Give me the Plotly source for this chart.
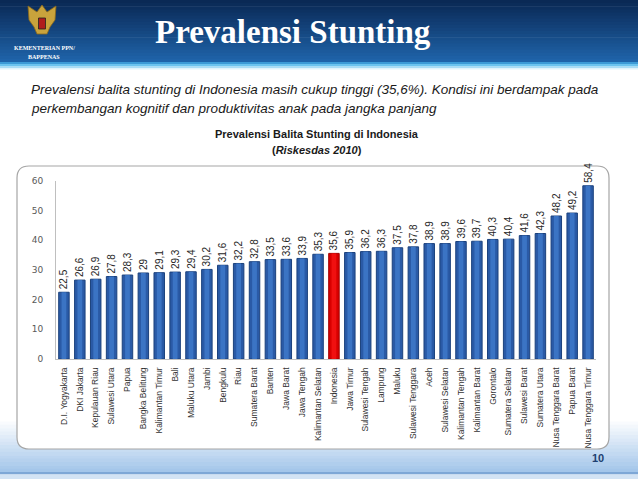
import plotly.graph_objects as go

provinces = ["D.I. Yogyakarta", "DKI Jakarta", "Kepulauan Riau", "Sulawesi Utara", "Papua",
             "Bangka Belitung", "Kalimantan Timur", "Bali", "Maluku Utara", "Jambi", "Bengkulu",
             "Riau", "Sumatera Barat", "Banten", "Jawa Barat", "Jawa Tengah", "Kalimantan Selatan",
             "Indonesia", "Jawa Timur", "Sulawesi Tengah", "Lampung", "Maluku", "Sulawesi Tenggara",
             "Aceh", "Sulawesi Selatan", "Kalimantan Tengah", "Kalimantan Barat", "Gorontalo",
             "Sumatera Selatan", "Sulawesi Barat", "Sumatera Utara", "Nusa Tenggara Barat",
             "Papua Barat", "Nusa Tenggara Timur"]
prevalence = [22.5, 26.6, 26.9, 27.8, 28.3, 29.0, 29.1, 29.3, 29.4, 30.2, 31.6,
              32.2, 32.8, 33.5, 33.6, 33.9, 35.3,
              35.6, 35.9, 36.2, 36.3, 37.5, 37.8,
              38.9, 38.9, 39.6, 39.7, 40.3,
              40.4, 41.6, 42.3, 48.2,
              49.2, 58.4]
label_text = ["22,5", "26,6", "26,9", "27,8", "28,3", "29", "29,1", "29,3", "29,4", "30,2", "31,6",
              "32,2", "32,8", "33,5", "33,6", "33,9", "35,3",
              "35,6", "35,9", "36,2", "36,3", "37,5", "37,8",
              "38,9", "38,9", "39,6", "39,7", "40,3",
              "40,4", "41,6", "42,3", "48,2",
              "49,2", "58,4"]
y_ticks = [0, 10, 20, 30, 40, 50, 60]
highlight = "Indonesia"

W, H = 638, 479
L, R, T, B = 56, 42, 181, 120
PW, PH = W - L - R, H - T - B


def px(x):
    return (x - L) / PW


def py(y):
    return (H - B - y) / PH


def hexmix(c1, c2, t):
    a = [int(c1[i:i + 2], 16) for i in (1, 3, 5)]
    b = [int(c2[i:i + 2], 16) for i in (1, 3, 5)]
    return "#" + "".join(f"{round(a[k] + (b[k] - a[k]) * t):02x}" for k in range(3))


is_hi = [p == highlight for p in provinces]
bar_colors = ["#d80000" if h else "#2a5aa6" for h in is_hi]
line_colors = ["#a00000" if h else "#1b417c" for h in is_hi]
shine_colors = ["#f01010" if h else "#3b74c4" for h in is_hi]

fig = go.Figure()
fig.add_trace(go.Bar(
    x=provinces, y=prevalence, width=0.66,
    marker=dict(color=bar_colors, line=dict(color=line_colors, width=1)),
    text=label_text, textposition="outside", textangle=-90,
    textfont=dict(family="Liberation Sans Narrow, Arial Narrow, sans-serif", size=10, color="#262626"),
    cliponaxis=False, constraintext="none", hoverinfo="x+y",
))
fig.add_trace(go.Bar(
    x=provinces, y=prevalence, width=0.3,
    marker=dict(color=shine_colors, line=dict(width=0)),
    hoverinfo="skip", cliponaxis=False,
))

shapes = []
# header gradient
n = 20
for i in range(n):
    y0 = 62 * i / n
    y1 = 62 * (i + 1) / n + 0.6
    shapes.append(dict(type="rect", xref="paper", yref="paper", layer="below",
                       x0=px(0), x1=px(W), y0=py(y1), y1=py(y0), line=dict(width=0),
                       fillcolor=hexmix("#0a2955", "#1f63a9", i / (n - 1))))
for (y0, y1, c) in [(62, 64, "#3c9ad6"), (64, 66, "#6cc3ee"), (66, 68, "#a9dcf5"), (68, 69.5, "#e0f3fb")]:
    shapes.append(dict(type="rect", xref="paper", yref="paper", layer="below",
                       x0=px(0), x1=px(W), y0=py(y1), y1=py(y0), line=dict(width=0), fillcolor=c))
# footer gradient
m = 16
for i in range(m):
    y0 = 418 + (472 - 418) * i / m
    y1 = 418 + (472 - 418) * (i + 1) / m + 0.6
    shapes.append(dict(type="rect", xref="paper", yref="paper", layer="below",
                       x0=px(0), x1=px(W), y0=py(y1), y1=py(y0), line=dict(width=0),
                       fillcolor=hexmix("#ffffff", "#a4c6ea", i / (m - 1))))
shapes.append(dict(type="rect", xref="paper", yref="paper", layer="below",
                   x0=px(0), x1=px(W), y0=py(474.5), y1=py(472), line=dict(width=0), fillcolor="#7ea7d6"))
shapes.append(dict(type="rect", xref="paper", yref="paper", layer="below",
                   x0=px(0), x1=px(W), y0=py(H), y1=py(474.5), line=dict(width=0), fillcolor="#d3e3f4"))

# chart box (rounded)
x0b, x1b, y0b, y1b, r = 17, 609, 166, 449, 12
path = (f"M {px(x0b + r)},{py(y0b)} L {px(x1b - r)},{py(y0b)} Q {px(x1b)},{py(y0b)} {px(x1b)},{py(y0b + r)} "
        f"L {px(x1b)},{py(y1b - r)} Q {px(x1b)},{py(y1b)} {px(x1b - r)},{py(y1b)} "
        f"L {px(x0b + r)},{py(y1b)} Q {px(x0b)},{py(y1b)} {px(x0b)},{py(y1b - r)} "
        f"L {px(x0b)},{py(y0b + r)} Q {px(x0b)},{py(y0b)} {px(x0b + r)},{py(y0b)} Z")
shapes.append(dict(type="path", path=path, xref="paper", yref="paper", layer="below",
                   fillcolor="white", line=dict(color="#a6a6a6", width=1.2)))

# simple emblem
shapes.append(dict(type="path", xref="paper", yref="paper", layer="below",
                   path=(f"M {px(42)},{py(5)} L {px(47)},{py(12)} L {px(56)},{py(6)} L {px(55)},{py(20)} "
                         f"L {px(50)},{py(27)} L {px(47)},{py(34)} L {px(37)},{py(34)} L {px(34)},{py(27)} "
                         f"L {px(29)},{py(20)} L {px(28)},{py(6)} L {px(37)},{py(12)} Z"),
                   fillcolor="#c9a33c", line=dict(color="#8a6a1c", width=0.8)))
shapes.append(dict(type="rect", xref="paper", yref="paper", layer="below",
                   x0=px(38.5), x1=px(45.5), y0=py(29), y1=py(18), fillcolor="#b01c1c",
                   line=dict(color="#222222", width=0.8)))

annotations = [
    dict(text="<b>Prevalensi Stunting</b>", x=px(293), y=py(32), xref="paper", yref="paper",
         showarrow=False, xanchor="center", yanchor="middle",
         font=dict(family="Liberation Serif, serif", size=33, color="white")),
    dict(text="<b>KEMENTERIAN PPN/</b>", x=px(44), y=py(48), xref="paper", yref="paper",
         showarrow=False, xanchor="center", yanchor="middle",
         font=dict(family="Liberation Serif, serif", size=6, color="white")),
    dict(text="<b>BAPPENAS</b>", x=px(44), y=py(57), xref="paper", yref="paper",
         showarrow=False, xanchor="center", yanchor="middle",
         font=dict(family="Liberation Serif, serif", size=6, color="white")),
    dict(text="<i>Prevalensi balita stunting di Indonesia masih cukup tinggi (35,6%). Kondisi ini berdampak pada</i>",
         x=px(29), y=py(89), xref="paper", yref="paper", showarrow=False, xanchor="left", yanchor="middle",
         font=dict(family="Liberation Sans, Arial, sans-serif", size=13.5, color="#1a1a1a")),
    dict(text="<i>perkembangan kognitif dan produktivitas anak pada jangka panjang</i>",
         x=px(29), y=py(108), xref="paper", yref="paper", showarrow=False, xanchor="left", yanchor="middle",
         font=dict(family="Liberation Sans, Arial, sans-serif", size=13.5, color="#1a1a1a")),
    dict(text="<b>Prevalensi Balita Stunting di Indonesia</b>", x=px(317), y=py(134),
         xref="paper", yref="paper", showarrow=False, xanchor="center", yanchor="middle",
         font=dict(family="Liberation Sans, Arial, sans-serif", size=11, color="#1a1a1a")),
    dict(text="<b>(<i>Riskesdas 2010</i>)</b>", x=px(317), y=py(150),
         xref="paper", yref="paper", showarrow=False, xanchor="center", yanchor="middle",
         font=dict(family="Liberation Sans, Arial, sans-serif", size=11, color="#1a1a1a")),
    dict(text="<b>10</b>", x=px(598), y=py(458), xref="paper", yref="paper", showarrow=False,
         xanchor="center", yanchor="middle",
         font=dict(family="Liberation Sans, Arial, sans-serif", size=11, color="#1f3f70")),
]

fig.update_layout(
    width=W, height=H,
    margin=dict(l=L, r=R, t=T, b=B, pad=0, autoexpand=False),
    paper_bgcolor="white", plot_bgcolor="rgba(0,0,0,0)",
    showlegend=False, barmode="overlay",
    shapes=shapes, annotations=annotations,
    xaxis=dict(type="category", tickangle=-90, showgrid=False, showline=True, linecolor="#bfbfbf",
               linewidth=1, ticks="", tickfont=dict(family="Liberation Sans Narrow, Arial Narrow, sans-serif",
                                                   size=8.5, color="#333333"),
               ticklabelstandoff=4, fixedrange=True),
    yaxis=dict(range=[0, 60], tickvals=y_ticks, showgrid=False, showline=True, linecolor="#bfbfbf",
               linewidth=1, ticks="", zeroline=False,
               tickfont=dict(family="DejaVu Sans, Verdana, sans-serif", size=9, color="#595959"),
               ticklabelstandoff=10, fixedrange=True),
)

fig.write_html("out.html", config={"displayModeBar": False},
               post_script="document.body.style.margin='0';")
